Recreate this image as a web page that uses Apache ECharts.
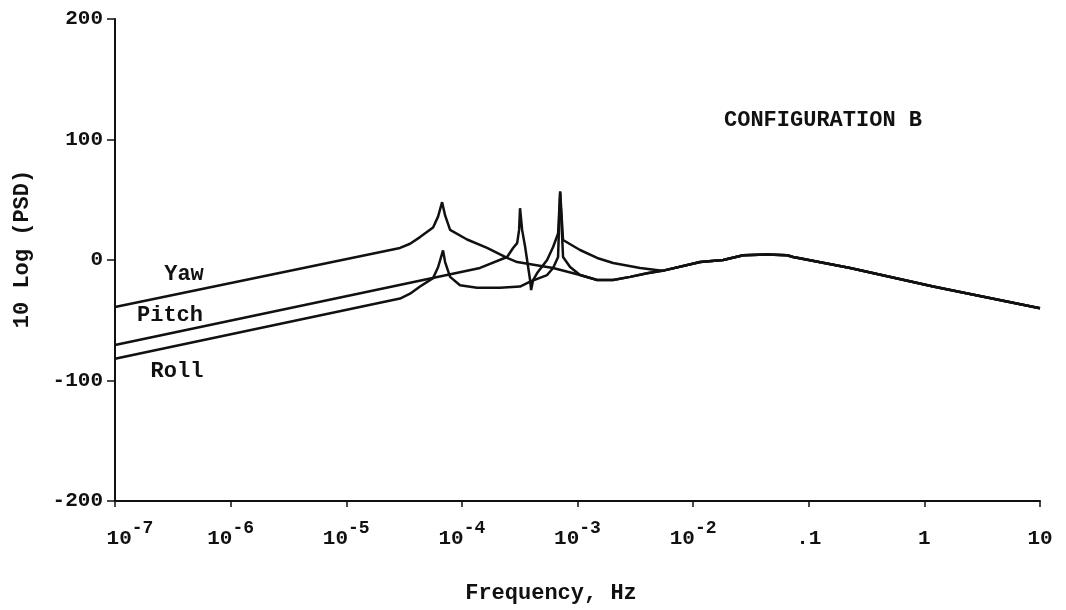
<!DOCTYPE html>
<html>
<head>
<meta charset="utf-8">
<title>Configuration B</title>
<script src="https://cdn.jsdelivr.net/npm/echarts@6/dist/echarts.min.js"></script>
<style>
  html, body { margin: 0; padding: 0; background: #fff; }
  #main { width: 1066px; height: 610px; }
</style>
</head>
<body>
<div id="main"></div>
<script>
// values: log10 of frequency (Hz) and 10 Log (PSD)
var yawExp = [-7, -4.535, -4.448, -4.362, -4.249, -4.206, -4.171, -4.145, -4.102, -3.955, -3.782, -3.609, -3.522,
  -3.211, -2.978, -2.830, -2.692, -2.545, -2.398];
var yawDb = [-39, 10, 13.5, 19, 27, 36, 48, 37, 25, 17, 10, 1.7, -1.7,
  -6.6, -12.5, -16.6, -16.6, -14, -11];

var pitchExp = [-7, -3.843, -3.609, -3.557, -3.522, -3.505, -3.497, -3.479, -3.453, -3.427, -3.410, -3.401,
  -3.384, -3.349, -3.263, -3.211, -3.168, -3.150, -3.125, -3.064, -2.978, -2.830, -2.692, -2.545, -2.398];
var pitchDb = [-70.5, -6.6, 2.5, 10, 14, 25, 43, 25, 11, -5.8, -16.6, -25,
  -16.6, -10.8, 0, 10.8, 22, 56, 2.5, -5.8, -12.5, -16.6, -16.6, -14, -11];

var rollExp = [-7, -4.535, -4.448, -4.362, -4.249, -4.206, -4.163, -4.145, -4.102, -4.016, -3.869, -3.670, -3.497,
  -3.410, -3.263, -3.211, -3.168, -3.150, -3.125, -2.978, -2.830, -2.692, -2.458];
var rollDb = [-82, -32, -28, -22, -15, -6, 8, -1.7, -14, -21, -23, -23, -22,
  -18, -12.5, -6.6, 2.5, 57, 16.6, 8.3, 1.7, -2.5, -6.6];

// above ~5e-3 Hz the three curves lie on top of each other
var tailExp = [-2.268, -1.939, -1.740, -1.567, -1.360, -1.187, -1.135, -0.642, 0.076, 1];
var tailDb = [-9, -1.7, 0, 4, 4.5, 4, 2.5, -6.6, -22, -40];

var xTickExp = [-7, -6, -5, -4, -3, -2, -1, 0, 1];
var xTickBase = ['10', '10', '10', '10', '10', '10', '.1', '1', '10'];
var xTickSup = ['-7', '-6', '-5', '-4', '-3', '-2', '', '', ''];

var FONT = '"Liberation Mono", "DejaVu Sans Mono", monospace';
var INK = '#111';

function pairs(exps, dbs) {
  var out = [];
  for (var i = 0; i < exps.length; i++) {
    out.push([Math.pow(10, exps[i]), dbs[i]]);
  }
  for (var j = 0; j < tailExp.length; j++) {
    out.push([Math.pow(10, tailExp[j]), tailDb[j]]);
  }
  return out;
}

function curve(name, data) {
  return {
    name: name,
    type: 'line',
    data: data,
    showSymbol: false,
    smooth: false,
    lineStyle: { color: INK, width: 2.5 },
    z: 3
  };
}

function label(text, x, y, rot) {
  return {
    type: 'text', x: x, y: y, rotation: rot || 0,
    style: { text: text, font: 'bold 22px ' + FONT, fill: INK, align: 'center', verticalAlign: 'middle' }
  };
}

var myChart = echarts.init(document.getElementById('main'));
var option = {
  animation: false,
  backgroundColor: '#fff',
  grid: { left: 115, right: 26, top: 19, bottom: 109 },
  xAxis: {
    type: 'log',
    logBase: 10,
    min: 1e-7,
    max: 10,
    axisLine: { onZero: false, lineStyle: { color: INK, width: 2 } },
    axisTick: { show: true, inside: false, length: 6, lineStyle: { color: INK, width: 1.5 } },
    minorTick: { show: false },
    splitLine: { show: false },
    axisLabel: {
      margin: 18,
      formatter: function (v) {
        var i = xTickExp.indexOf(Math.round(Math.log10(v)));
        if (i < 0) return '';
        var b = i === 0 ? 'f' : 'b';
        var txt = '{' + b + '|' + xTickBase[i] + '}';
        if (xTickSup[i]) txt += '{s|' + xTickSup[i] + '}';
        return txt;
      },
      rich: {
        b: { fontFamily: FONT, fontSize: 21, fontWeight: 'bold', color: INK, lineHeight: 30, verticalAlign: 'bottom' },
        f: { fontFamily: FONT, fontSize: 21, fontWeight: 'bold', color: INK, lineHeight: 30, verticalAlign: 'bottom', padding: [0, 0, 0, 30] },
        s: { fontFamily: FONT, fontSize: 18, fontWeight: 'bold', color: INK, lineHeight: 30, verticalAlign: 'top' }
      }
    }
  },
  yAxis: {
    type: 'value',
    min: -200,
    max: 200,
    interval: 100,
    axisLine: { show: true, onZero: false, lineStyle: { color: INK, width: 2 } },
    axisTick: { show: true, inside: false, length: 8, lineStyle: { color: INK, width: 1.5 } },
    splitLine: { show: false },
    axisLabel: {
      margin: 12,
      fontFamily: FONT,
      fontSize: 21,
      fontWeight: 'bold',
      color: INK
    }
  },
  graphic: [
    label('10 Log (PSD)', 22, 249, Math.PI / 2),
    label('Frequency, Hz', 551, 593),
    label('CONFIGURATION B', 823, 120),
    label('Yaw', 184, 274),
    label('Pitch', 170, 315),
    label('Roll', 177, 371)
  ],
  series: [
    curve('Yaw', pairs(yawExp, yawDb)),
    curve('Pitch', pairs(pitchExp, pitchDb)),
    curve('Roll', pairs(rollExp, rollDb))
  ]
};

myChart.setOption(option);
window.onresize = function () {
  myChart.resize();
};
</script>
</body>
</html>
